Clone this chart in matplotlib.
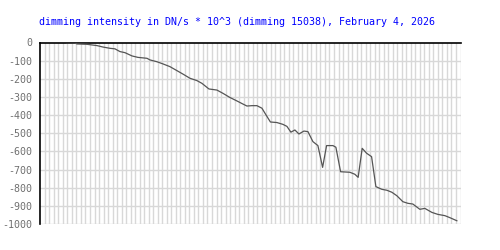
import numpy as np
import matplotlib.pyplot as plt

plt.rcParams["axes.unicode_minus"] = False

# vertices of the curve: x in grid steps, y in DN/s * 10^3
x_steps = [5.84, 7.68, 8.12, 10.33, 12.54, 13.87, 15.42, 16.53, 17.63, 18.74,
           20.29, 21.62, 23.61, 24.27, 25.82, 27.15, 28.69, 30.24, 31.57, 33.12,
           34.67, 35.77, 37.32, 39.09, 40.42, 41.97, 43.52, 44.84, 45.73, 46.84,
           47.94, 49.05, 49.93, 50.93, 52.37, 53.69, 54.58, 55.46, 56.35, 57.24,
           58.34, 59.23, 60.33, 61.44, 62.48, 63.36, 64.76, 65.42, 66.46, 68.52,
           69.62, 70.35, 71.24, 72.21, 73.32, 74.27, 75.60, 76.70, 77.80, 78.90,
           80.24, 81.35, 82.45, 84.00, 85.11, 86.66, 87.99, 89.54, 90.64, 92.19]
dimming = [-1, -3, -8, -10, -17, -25, -32, -35, -50, -56,
           -74, -82, -87, -96, -106, -118, -133, -155, -174, -197,
           -210, -225, -256, -262, -280, -303, -322, -339, -350, -348,
           -348, -362, -398, -438, -441, -451, -462, -494, -482, -504,
           -488, -491, -546, -568, -688, -568, -568, -577, -712, -715,
           -726, -743, -583, -610, -629, -794, -809, -814, -825, -844,
           -877, -886, -890, -919, -914, -936, -947, -954, -965, -982]
y_ticks = list(range(0, -1001, -100))
n_steps = 93

fig = plt.figure(figsize=(5, 2.5), dpi=100)
ax = fig.add_axes([0.0806, 0.104, 0.8404, 0.726])

grid_col = "#d8d8d8"
for i in range(1, n_steps + 1):
    ax.axvline(i, color=grid_col, lw=1.0, zorder=1)
for v in y_ticks[1:]:
    ax.axhline(v, color=grid_col, lw=1.0, zorder=1)

ax.plot(x_steps, dimming, color="#555555", lw=0.9, zorder=3)

ax.set_xlim(0, n_steps)
ax.set_ylim(-1000, 0)
ax.set_xticks([])
ax.set_yticks(y_ticks)
ax.tick_params(axis="y", length=0, pad=6, labelsize=7.2, labelcolor="#707070")
for lab in ax.get_yticklabels():
    lab.set_family("DejaVu Sans Mono")

for side in ("right", "bottom"):
    ax.spines[side].set_visible(False)
ax.spines["left"].set_linewidth(1.2)
ax.spines["top"].set_linewidth(1.2)

fig.text(0.078, 0.912, "dimming intensity in DN/s * 10^3 (dimming 15038), February 4, 2026",
         color="#0000ff", fontsize=7.2, family="DejaVu Sans Mono", va="center", ha="left")

fig.savefig("out.png", dpi=100, facecolor="white")
